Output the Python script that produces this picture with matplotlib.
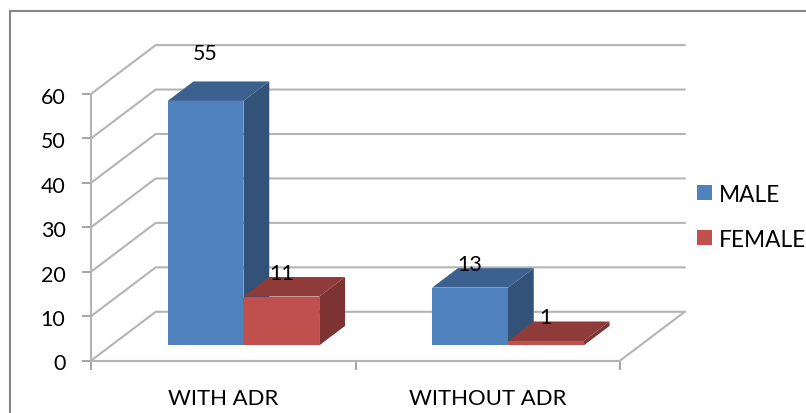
#!/usr/bin/env python3
"""Clustered column chart of ADR counts by sex, drawn in an oblique 3D style."""

import matplotlib

matplotlib.use("Agg")
import matplotlib.pyplot as plt
from matplotlib.patches import Polygon, Rectangle
from matplotlib.transforms import ScaledTranslation

CATEGORIES = ["WITH ADR", "WITHOUT ADR"]
SERIES_NAMES = ["MALE", "FEMALE"]
MALE = [55, 13]
FEMALE = [11, 1]
Y_TICKS = [0, 10, 20, 30, 40, 50, 60]

FRONT = {"MALE": "#4f81bd", "FEMALE": "#c0504d"}
TOP = {"MALE": "#3c618f", "FEMALE": "#8f3b39"}
SIDE = {"MALE": "#325278", "FEMALE": "#7c3331"}
GRID = "#b4b4b4"
AXIS = "#8c8c8c"

W, H = 806, 414
LEFT, RIGHT = 91.2, 620.2
BOTTOM, TOP_PX = 361.5, 94.8
PX_PER_UNIT = (BOTTOM - TOP_PX) / 60

# oblique depth of the floor, in axis units
DEPTH_X = 64.5 / (RIGHT - LEFT) * 2
DEPTH_Y = 48.7 / PX_PER_UNIT
BAR_W = 75.8 / (RIGHT - LEFT) * 2
BAR_START = 0.31
BAR_DEPTH = 0.4

plt.rcParams["font.family"] = ["Lato", "DejaVu Sans"]

fig = plt.figure(figsize=(W / 100, H / 100), dpi=100)
ax = fig.add_axes([LEFT / W, 1 - BOTTOM / H, (RIGHT - LEFT) / W, (BOTTOM - TOP_PX) / H])
ax.set_xlim(0, 2)
ax.set_ylim(0, 60)
ax.patch.set_visible(False)
for name in ["top", "right"]:
    ax.spines[name].set_visible(False)
for name in ["left", "bottom"]:
    ax.spines[name].set_color(GRID)
    ax.spines[name].set_linewidth(1.5)

ax.set_yticks(Y_TICKS)
ax.set_xticks([0, 1, 2])
ax.set_xticklabels([])
ax.set_xticks([0.5, 1.5], CATEGORIES, minor=True)
ax.tick_params(axis="both", which="major", color=AXIS, length=6.5, width=1.1, labelsize=15.4)
ax.tick_params(axis="x", which="minor", length=0, labelsize=15.9, pad=19.5)
ax.tick_params(axis="y", pad=12)

# the value labels sit slightly below their ticks
nudge = ScaledTranslation(0, -1 / 100, fig.dpi_scale_trans)
for label in ax.get_yticklabels():
    label.set_transform(label.get_transform() + nudge)

# walls: gridlines run along the back and slant down to the front axis
for v in Y_TICKS:
    ax.plot([0, DEPTH_X, 2 + DEPTH_X], [v, v + DEPTH_Y, v + DEPTH_Y],
            color=GRID, lw=1.5, clip_on=False, zorder=1)
ax.plot([2, 2 + DEPTH_X], [0, DEPTH_Y], color=GRID, lw=1.5, clip_on=False, zorder=1)


def draw_bar(x0, value, key, label_lift=24):
    x = x0 + DEPTH_X * BAR_START
    y0 = DEPTH_Y * BAR_START
    y1 = y0 + value
    dx = DEPTH_X * BAR_DEPTH
    dy = DEPTH_Y * BAR_DEPTH
    style = dict(clip_on=False, zorder=3, lw=0)
    ax.add_patch(Polygon([(x + BAR_W, y0), (x + BAR_W + dx, y0 + dy),
                          (x + BAR_W + dx, y1 + dy), (x + BAR_W, y1)], fc=SIDE[key], **style))
    ax.add_patch(Polygon([(x, y1), (x + dx, y1 + dy), (x + BAR_W + dx, y1 + dy),
                          (x + BAR_W, y1)], fc=TOP[key], **style))
    ax.add_patch(Rectangle((x, y0), BAR_W, value, fc=FRONT[key], **style))
    ax.text(x + BAR_W / 2, y1 + label_lift / PX_PER_UNIT, str(value), ha="center", va="center",
            fontsize=15.4, color="black", zorder=5)


for i in range(len(CATEGORIES)):
    center = i + 0.5
    # the tallest column carries its label well above the top face
    draw_bar(center - BAR_W, MALE[i], "MALE", label_lift=48 if i == 0 else 24)
    draw_bar(center, FEMALE[i], "FEMALE")

# legend keys and labels
for name, y_px in zip(SERIES_NAMES, [193.5, 238.5]):
    fig.add_artist(Rectangle((697 / W, 1 - (y_px + 7.5) / H), 15 / W, 15 / H,
                             transform=fig.transFigure, fc=FRONT[name], lw=0))
    fig.text(719 / W, 1 - (y_px + 2) / H, name, ha="left", va="center", fontsize=16.3)

# chart frame runs off the right and bottom edges
fig.add_artist(Rectangle((9.5 / W, -0.02), 2, 1 - 11.5 / H + 0.02, transform=fig.transFigure,
                         fc="none", ec="#868686", lw=1.5))

fig.savefig("out.png", dpi=100)
